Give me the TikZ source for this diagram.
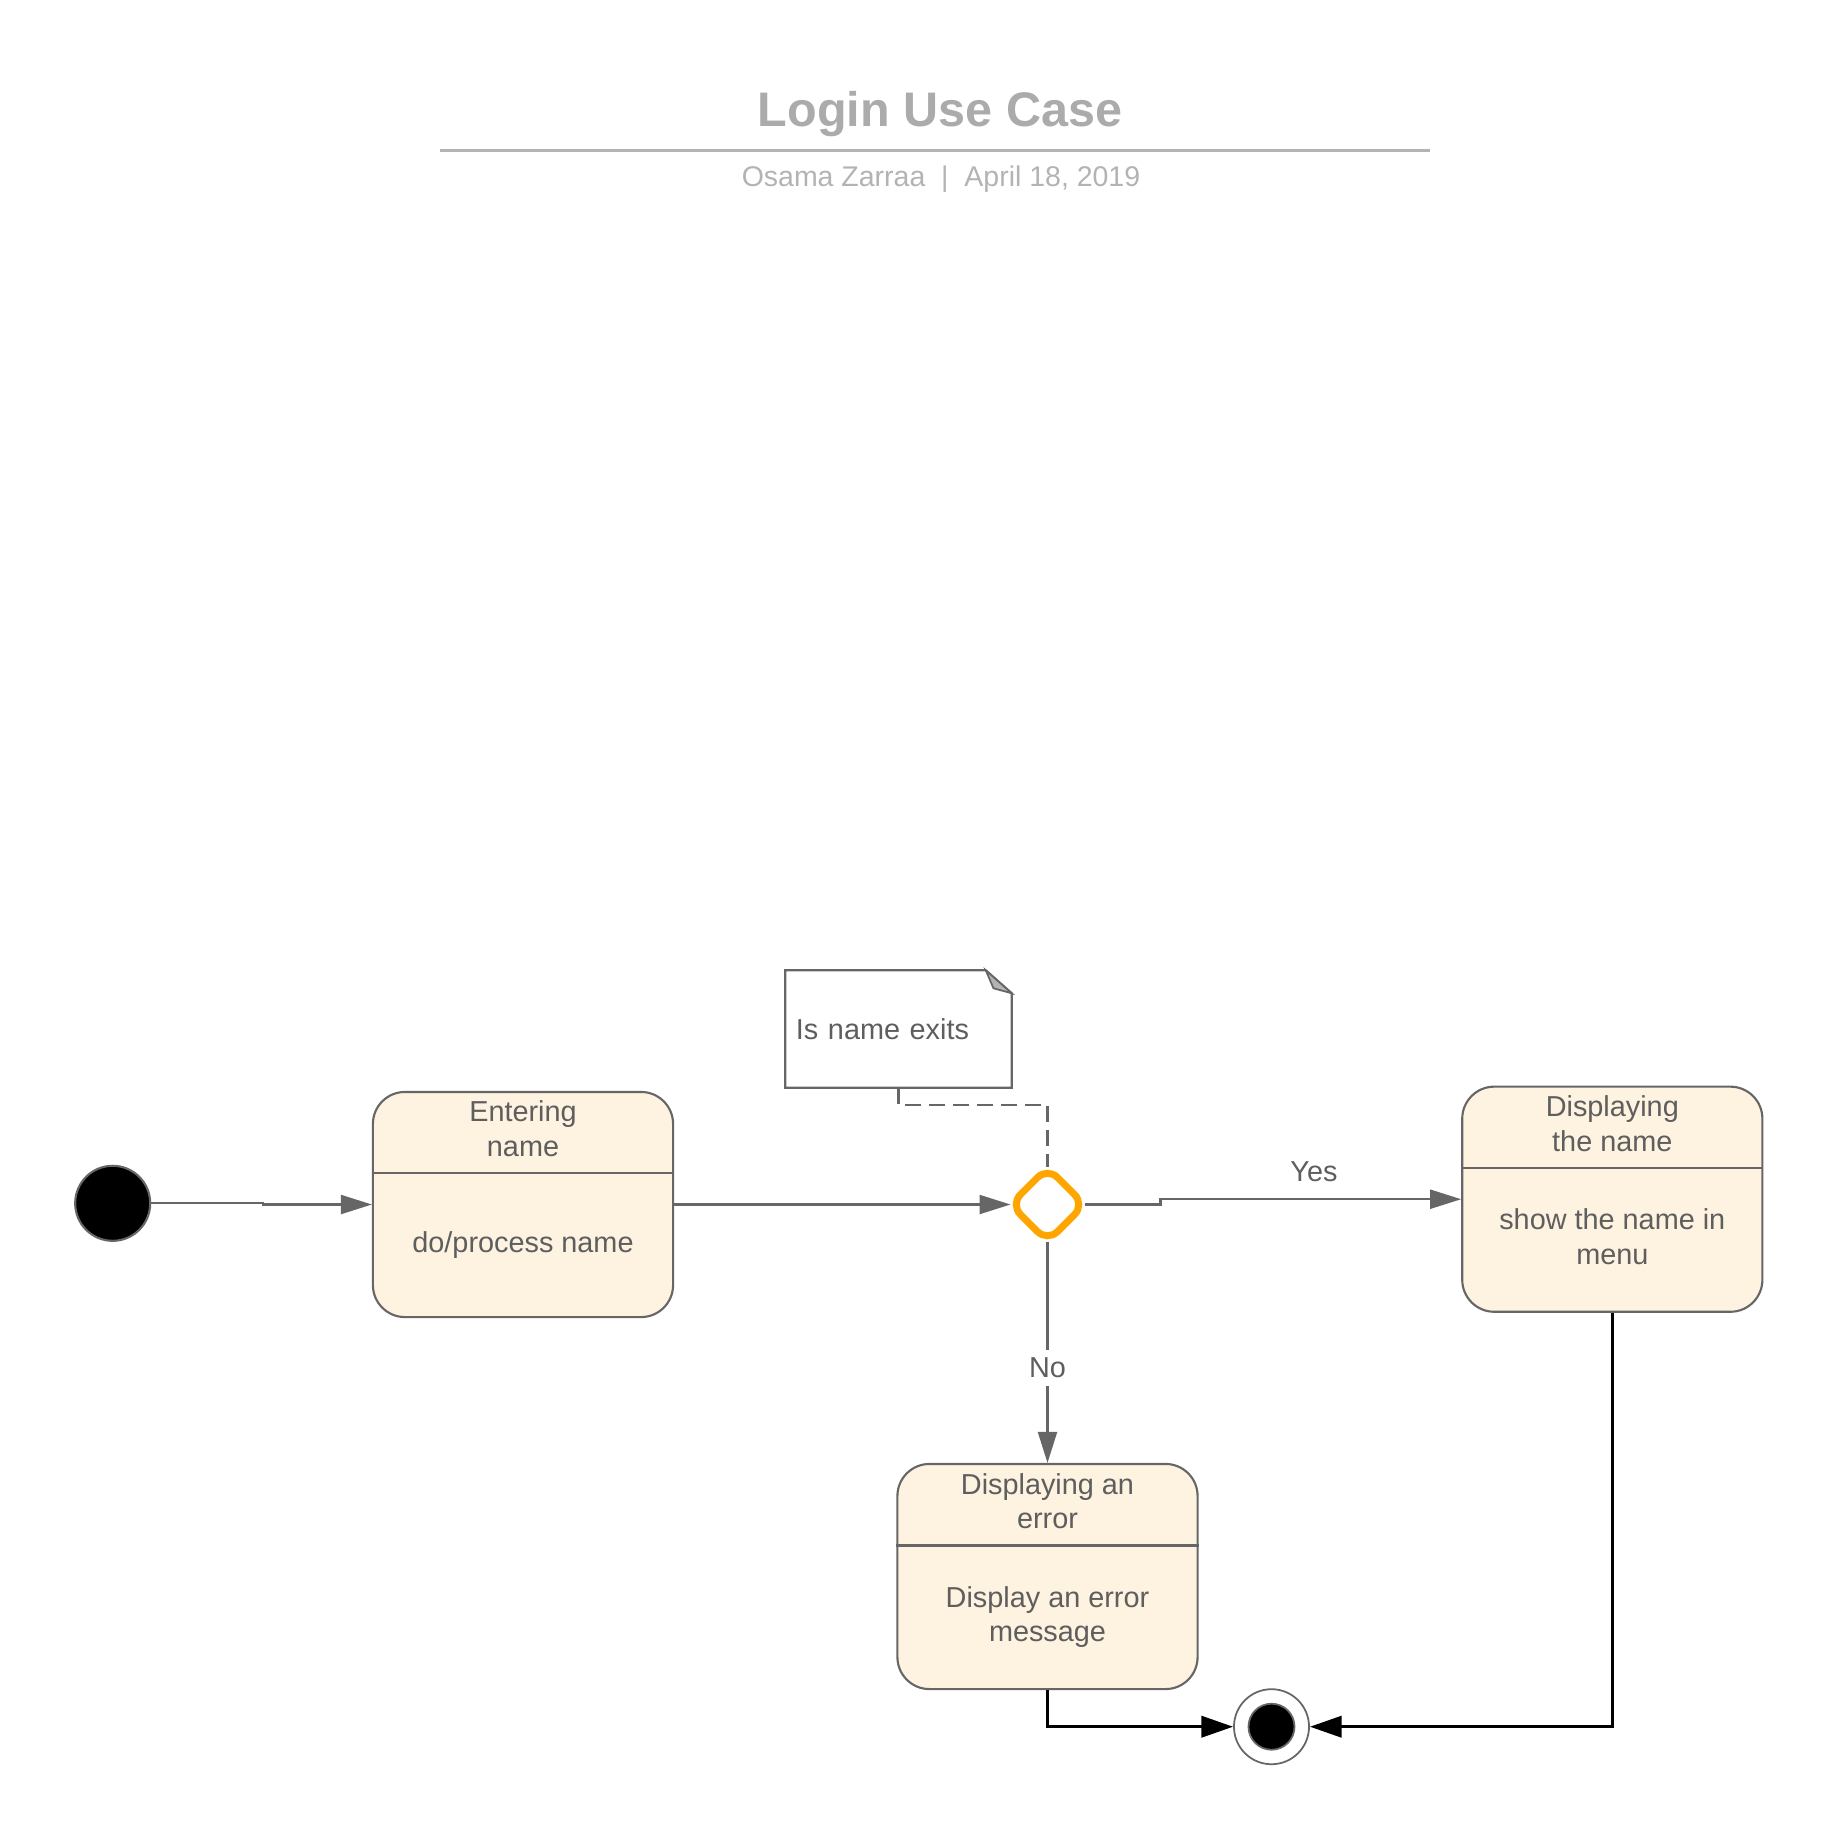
\documentclass[tikz,border=0pt]{standalone}
\usepackage{fontspec}
\setmainfont{Liberation Sans}
\usetikzlibrary{arrows.meta,shapes.geometric}

\definecolor{txtgray}{HTML}{5E5E5E}
\definecolor{linegray}{HTML}{666666}
\definecolor{statefill}{HTML}{FEF2E0}
\definecolor{decorange}{HTML}{FFA500}
\definecolor{titlegray}{HTML}{ABABAB}
\definecolor{rulegray}{HTML}{B3B3B3}

\begin{document}
\begin{tikzpicture}[x=0.01cm,y=-0.01cm,
    state/.style={rectangle,rounded corners=0.32cm,draw=linegray,line width=0.6pt,fill=statefill,minimum width=3cm,minimum height=2.25cm},
    lbl/.style={text=txtgray,align=center,font=\fontsize{8.2pt}{9.8pt}\selectfont,inner sep=0pt},
    conn/.style={draw=linegray,line width=0.6pt,-{Triangle[length=8.8pt,width=5.4pt]}},
    endconn/.style={draw=black,line width=0.95pt,-{Triangle[length=9pt,width=6pt]}}]
    \useasboundingbox (0,0) rectangle (1838,1839);

    % title
    \node[anchor=base,text=titlegray,font=\fontsize{13.8pt}{16pt}\selectfont\bfseries] (title) at (940,126.7) {Login Use Case};
    \draw[rulegray,line width=0.95pt] (440,150.7) -- (1430,150.7);
    \node[anchor=base,text=rulegray,font=\fontsize{8.1pt}{10pt}\selectfont] (sub) at (941,186.7) {Osama Zarraa~~|~~April 18, 2019};

    % states
    \node[circle,fill=black,draw=linegray,line width=0.6pt,minimum size=0.75cm,inner sep=0pt] (start) at (112.7,1203.3) {};
    \node[state] (enter) at (523,1204.5) {};
    \node[state] (disp) at (1612.3,1199.2) {};
    \node[state] (err) at (1047.5,1576.5) {};
    \node[diamond,draw=decorange,line width=2pt,rounded corners=0.14cm,minimum width=0.74cm,minimum height=0.74cm,inner sep=0pt,outer sep=0pt] (dec) at (1047.5,1204.5) {};
    \node[circle,draw=linegray,line width=0.5pt,fill=white,minimum size=0.75cm,inner sep=0pt] (end) at (1271.5,1726.7) {};
    \node[circle,draw=linegray,line width=0.5pt,fill=black,minimum size=0.46cm,inner sep=0pt] (endin) at (end.center) {};

    \draw[linegray,line width=0.6pt] ([yshift=-0.825cm]enter.north west) -- ([yshift=-0.825cm]enter.north east);
    \draw[linegray,line width=0.6pt] ([yshift=-0.825cm]disp.north west) -- ([yshift=-0.825cm]disp.north east);
    \draw[linegray,line width=0.6pt] ([yshift=-0.825cm]err.north west) -- ([yshift=-0.825cm]err.north east);

    \node[lbl] (enterT) at ([yshift=-0.38cm]enter.north) {Entering\\name};
    \node[lbl] (enterB) at ([yshift=-1.545cm]enter.north) {do/process name};
    \node[lbl] (dispT) at ([yshift=-0.38cm]disp.north) {Displaying\\the name};
    \node[lbl] (dispB) at ([yshift=-1.51cm]disp.north) {show the name in\\menu};
    \node[lbl] (errT) at ([yshift=-0.385cm]err.north) {Displaying an\\error};
    \node[lbl] (errB) at ([yshift=-1.54cm]err.north) {Display an error\\message};

    % note
    \node[lbl,align=left,minimum width=2.25cm,minimum height=1.16cm,text width=2.05cm,inner sep=0.1cm] (note) at (898.5,1029) {Is name exits};
    \draw[linegray,line width=0.6pt] (note.north west) -- ([xshift=-0.26cm]note.north east) -- ([yshift=-0.23cm]note.north east) -- (note.south east) -- (note.south west) -- cycle;
    \draw[linegray,line width=0.5pt,fill=rulegray] ([xshift=-0.26cm]note.north east) -- ([xshift=-0.183cm,yshift=-0.18cm]note.north east) -- ([yshift=-0.23cm]note.north east) -- cycle;

    % transitions
    \draw[conn] (start.east) -- ++(112,0) |- (enter.west);
    \draw[conn] (enter.east) -- (dec.west);
    \draw[conn] (dec.east) -- ++(76,0) |- (disp.west);
    \node[lbl] (yes) at (1314,1172) {Yes};
    \draw[conn] (dec.south) -- node[lbl,fill=white,pos=0.57,inner xsep=1pt,inner ysep=2.2pt] (no) {No} (err.north);
    \draw[linegray,line width=0.6pt,dash pattern=on 4.5pt off 2.3pt] (note.south) -- ++(0,17) -| (dec.north);
    \draw[endconn] (err.south) |- (end.west);
    \draw[endconn] (disp.south) |- (end.east);
\end{tikzpicture}
\end{document}
